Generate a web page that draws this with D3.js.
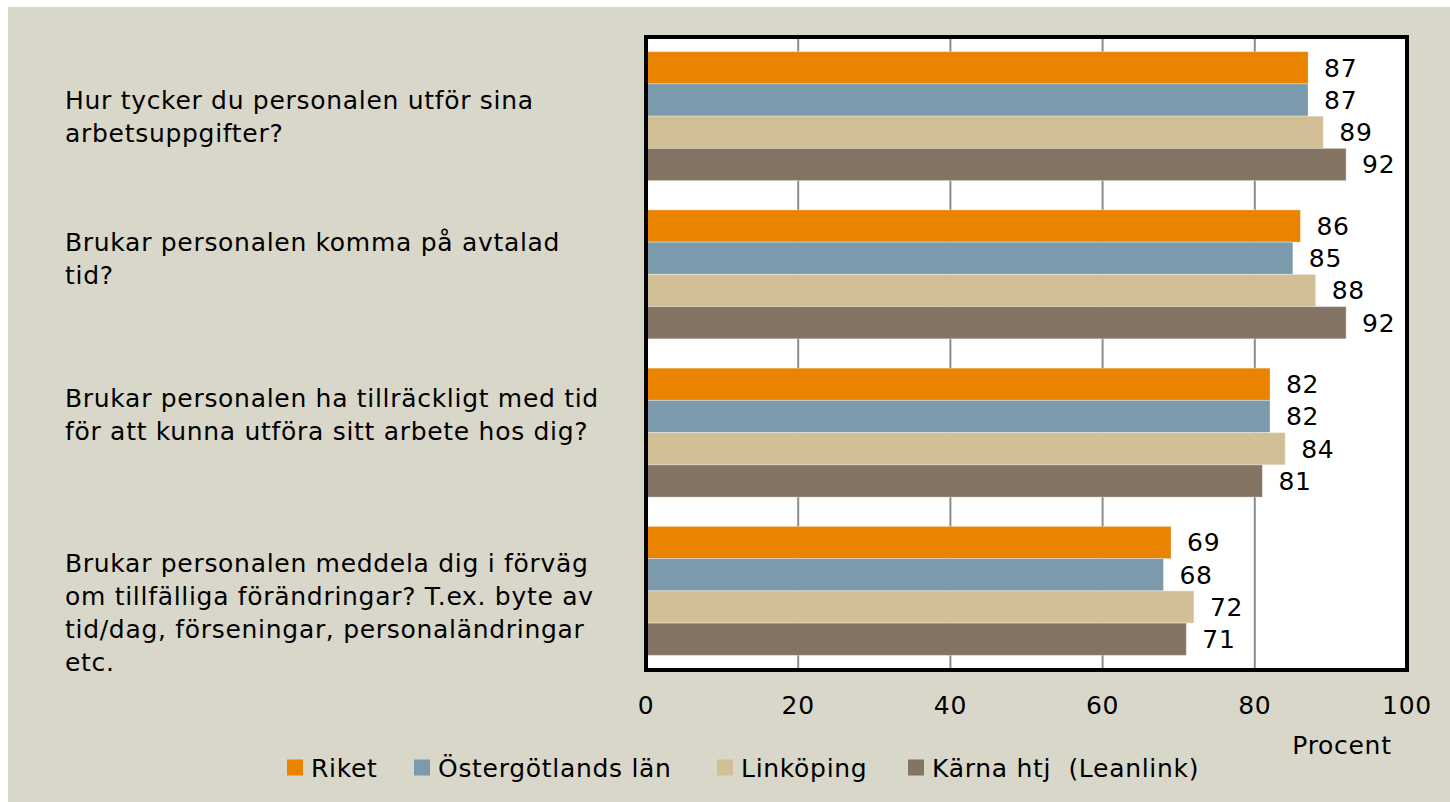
<!DOCTYPE html>
<html><head><meta charset="utf-8">
<script src="https://cdn.jsdelivr.net/npm/d3@7"></script>
<style>
html,body{margin:0;padding:0;background:#fff;}
svg{display:block;}
text{font-family:"Century Gothic","DejaVu Sans",sans-serif;fill:#000;letter-spacing:0.7px;white-space:pre;}
</style></head>
<body>
<svg id="c" width="1450" height="802"></svg>
<script>
const categories = [
  ["Hur tycker du personalen utför sina","arbetsuppgifter?"],
  ["Brukar personalen komma på avtalad","tid?"],
  ["Brukar personalen ha tillräckligt med tid","för att kunna utföra sitt arbete hos dig?"],
  ["Brukar personalen meddela dig i förväg","om tillfälliga förändringar? T.ex. byte av","tid/dag, förseningar, personaländringar","etc."]
];
const seriesNames = ["Riket","Östergötlands län","Linköping","Kärna htj  (Leanlink)"];
const riket     = [87,86,82,69];
const ostergotland = [87,85,82,68];
const linkoping = [89,88,84,72];
const karna     = [92,92,81,71];
const seriesValues = [riket, ostergotland, linkoping, karna];
const xTicks = [0,20,40,60,80,100];
const axisTitle = "Procent";

const colors = ["#E98300","#7B9AAB","#D3BF95","#847464"];
const FS = 25;
const svg = d3.select("#c");
svg.append("rect").attr("x",8).attr("y",7).attr("width",1442).attr("height",795).attr("fill","#D9D7CA");

const L=646, R=1407, T=37, B=670;
const x = d3.scaleLinear().domain([0,100]).range([L,R]);
const y = d3.scaleBand().domain(d3.range(categories.length)).range([T,B]).paddingInner(0.185).paddingOuter(0.0925);
const yInner = d3.scaleBand().domain(d3.range(seriesNames.length)).range([0,y.bandwidth()]);

svg.append("rect").attr("x",L).attr("y",T).attr("width",R-L).attr("height",B-T).attr("fill","#fff");
// gridlines
svg.append("g").selectAll("line").data(xTicks.slice(1,-1)).join("line")
  .attr("x1",d=>x(d)).attr("x2",d=>x(d)).attr("y1",T).attr("y2",B)
  .attr("stroke","#8c8c8c").attr("stroke-width",2);

const groups = svg.append("g").selectAll("g").data(categories).join("g")
  .attr("transform",(d,i)=>`translate(0,${y(i)})`);
groups.each(function(c,ci){
  const g = d3.select(this);
  seriesValues.forEach((vals,si)=>{
    g.append("rect").attr("x",x(0)).attr("y",yInner(si)).attr("width",x(vals[ci])-x(0)).attr("height",yInner.bandwidth())
      .attr("fill",colors[si]).attr("stroke","rgba(255,255,255,0.35)").attr("stroke-width",1);
    g.append("text").attr("x",x(vals[ci])+16).attr("y",yInner(si)+yInner.bandwidth()/2).attr("dy","0.36em")
      .attr("font-size",FS).text(vals[ci]);
  });
});

// frame
svg.append("rect").attr("x",L).attr("y",T).attr("width",R-L).attr("height",B-T).attr("fill","none").attr("stroke","#000").attr("stroke-width",4);

// category labels
const nudge = [0,-16,-18,22];
const lh = 33;
categories.forEach((lines,ci)=>{
  const cy = y(ci)+y.bandwidth()/2 + nudge[ci];
  const t = svg.append("text").attr("font-size",FS).attr("x",65);
  lines.forEach((ln,li)=>{
    t.append("tspan").attr("x",65).attr("y",cy + (li-(lines.length-1)/2)*lh).attr("dy","0.36em").text(ln);
  });
});

// x axis labels
svg.append("g").selectAll("text").data(xTicks).join("text")
  .attr("x",d=>x(d)).attr("y",705).attr("dy","0.36em").attr("text-anchor","middle").attr("font-size",FS).text(d=>d);
svg.append("text").attr("x",1342).attr("y",745).attr("dy","0.36em").attr("text-anchor","middle").attr("font-size",FS).text(axisTitle);

// legend
const legX=[287,414,717,908];
const lg = svg.append("g").selectAll("g").data(seriesNames).join("g").attr("transform",(d,i)=>`translate(${legX[i]},768)`);
lg.append("rect").attr("x",0).attr("y",-8.5).attr("width",16).attr("height",16).attr("fill",(d,i)=>colors[i]);
lg.append("text").attr("x",24).attr("y",0).attr("dy","0.36em").attr("font-size",FS).text(d=>d);
</script>
</body></html>
